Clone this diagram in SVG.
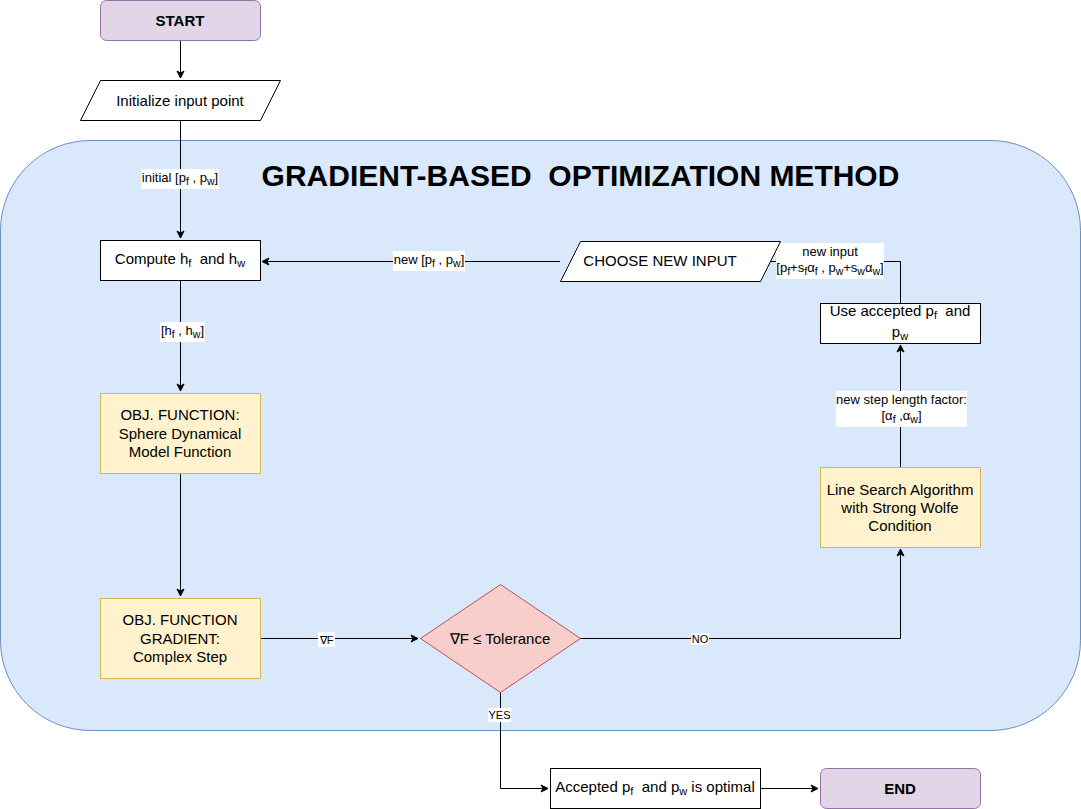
<svg xmlns="http://www.w3.org/2000/svg" width="1081" height="809" viewBox="0 0 1081 809">
<defs>
<marker id="arr" markerWidth="10" markerHeight="10" refX="8" refY="5" orient="auto" markerUnits="userSpaceOnUse">
<path d="M1,1.5 L8,5 L1,8.5 L3,5 Z" fill="#000" stroke="#000" stroke-width="1"/>
</marker>
<style>
text{font-family:"Liberation Sans",Arial,sans-serif;fill:#000;white-space:pre;}
.n{font-size:15px;text-anchor:middle;}
.b{font-weight:bold;}
.l{font-size:13px;text-anchor:middle;}
.t{font-size:11px;text-anchor:middle;}
.s{font-size:10.5px;}
.ss{font-size:11px;}
.term{fill:#e1d5e7;stroke:#9673a6;stroke-width:1;}
.proc{fill:#fff;stroke:#000;stroke-width:1;}
.obj{fill:#fff2cc;stroke:#d6b656;stroke-width:1;}
.dec{fill:#f8cecc;stroke:#b85450;stroke-width:1;}
.e{fill:none;stroke:#000;stroke-width:1;}
.lb{fill:#fff;stroke:none;}
</style>
</defs>
<rect fill="#fff" x="0" y="0" width="1081" height="809"/>
<g id="container">
<rect x="0.5" y="140.5" width="1080" height="590" rx="90" ry="90" fill="#dae8fc" stroke="#6c8ebf"/>
<text x="580.5" y="186" font-size="30" font-weight="bold" text-anchor="middle" xml:space="preserve">GRADIENT-BASED  OPTIMIZATION METHOD</text>
</g>
<g id="connectors">
<path class="e" d="M180.5,40 L180.5,78" marker-end="url(#arr)"/>
<path class="e" d="M180.5,120 L180.5,238" marker-end="url(#arr)"/>
<path class="e" d="M180.5,280 L180.5,391" marker-end="url(#arr)"/>
<path class="e" d="M180.5,473 L180.5,596" marker-end="url(#arr)"/>
<path class="e" d="M260,638.5 L418,638.5" marker-end="url(#arr)"/>
<path class="e" d="M580,638.5 L900.5,638.5 L900.5,549" marker-end="url(#arr)"/>
<path class="e" d="M900.5,467 L900.5,345" marker-end="url(#arr)"/>
<path class="e" d="M900.5,303 L900.5,261.5 L762,261.5" marker-end="url(#arr)"/>
<path class="e" d="M560,261.5 L262,261.5" marker-end="url(#arr)"/>
<path class="e" d="M500.5,692 L500.5,788.5 L548,788.5" marker-end="url(#arr)"/>
<path class="e" d="M760,788.5 L818,788.5" marker-end="url(#arr)"/>
<rect class="lb" x="141" y="169" width="78" height="20"/>
<text class="l" x="180" y="182" xml:space="preserve">initial [p<tspan class="s" dy="3">f</tspan><tspan dy="-3"> , p</tspan><tspan class="s" dy="3">w</tspan><tspan dy="-3">]</tspan></text>
<rect class="lb" x="160" y="322" width="45" height="20"/>
<text class="l" x="182.5" y="335" xml:space="preserve">[h<tspan class="s" dy="3">f</tspan><tspan dy="-3"> , h</tspan><tspan class="s" dy="3">w</tspan><tspan dy="-3">]</tspan></text>
<rect class="lb" x="393" y="251" width="72" height="20"/>
<text class="l" x="429" y="264" xml:space="preserve">new [p<tspan class="s" dy="3">f</tspan><tspan dy="-3"> , p</tspan><tspan class="s" dy="3">w</tspan><tspan dy="-3">]</tspan></text>
<rect class="lb" x="776" y="243" width="108" height="36"/>
<text class="l" x="830" y="256">new input</text>
<text class="l" x="830" y="272" xml:space="preserve">[p<tspan class="s" dy="3">f</tspan><tspan dy="-3">+s</tspan><tspan class="s" dy="3">f</tspan><tspan dy="-3">α</tspan><tspan class="s" dy="3">f</tspan><tspan dy="-3"> , p</tspan><tspan class="s" dy="3">w</tspan><tspan dy="-3">+s</tspan><tspan class="s" dy="3">w</tspan><tspan dy="-3">α</tspan><tspan class="s" dy="3">w</tspan><tspan dy="-3">]</tspan></text>
<rect class="lb" x="836" y="391" width="131" height="36"/>
<text class="l" x="901.5" y="404">new step length factor:</text>
<text class="l" x="901.5" y="420" xml:space="preserve">[α<tspan class="s" dy="3">f</tspan><tspan dy="-3"> ,α</tspan><tspan class="s" dy="3">w</tspan><tspan dy="-3">]</tspan></text>
<rect class="lb" x="318" y="632" width="17" height="15"/>
<text class="t" x="326.5" y="643.5">∇F</text>
<rect class="lb" x="691" y="633" width="18" height="12"/>
<text class="t" x="700" y="643">NO</text>
<rect class="lb" x="488" y="708" width="23" height="14"/>
<text class="t" x="499.5" y="719">YES</text>
</g>
<g id="start">
<rect class="term" x="100.5" y="0.5" width="160" height="40" rx="6" ry="6"/>
<text class="n b" x="180" y="25.5">START</text>
</g>
<g id="init">
<polygon class="proc" points="100.5,80.5 280.5,80.5 260.5,120.5 80.5,120.5"/>
<text class="n" x="180" y="105.5">Initialize input point</text>
</g>
<g id="compute">
<rect class="proc" x="100.5" y="240.5" width="160" height="40"/>
<text class="n" x="180" y="264" xml:space="preserve">Compute h<tspan class="ss" dy="3">f</tspan><tspan dy="-3">  and h</tspan><tspan class="ss" dy="3">w</tspan></text>
</g>
<g id="objfun">
<rect class="obj" x="100.5" y="393.5" width="160" height="80"/>
<text class="n" x="180" y="420">OBJ. FUNCTION:</text>
<text class="n" x="180" y="438.5">Sphere Dynamical</text>
<text class="n" x="180" y="457">Model Function</text>
</g>
<g id="gradient">
<rect class="obj" x="100.5" y="598.5" width="160" height="80"/>
<text class="n" x="180" y="625">OBJ. FUNCTION</text>
<text class="n" x="180" y="643.5">GRADIENT:</text>
<text class="n" x="180" y="662">Complex Step</text>
</g>
<g id="decision">
<polygon class="dec" points="500.5,584.5 580.5,638.5 500.5,692.5 420.5,638.5"/>
<text class="n" x="500" y="643.5">∇F ≤ Tolerance</text>
</g>
<g id="linesearch">
<rect class="obj" x="820.5" y="467.5" width="160" height="80"/>
<text class="n" x="900" y="495">Line Search Algorithm</text>
<text class="n" x="900" y="513">with Strong Wolfe</text>
<text class="n" x="900" y="531">Condition</text>
</g>
<g id="useaccepted">
<rect class="proc" x="820.5" y="303.5" width="160" height="40"/>
<text class="n" x="900" y="316" xml:space="preserve">Use accepted p<tspan class="ss" dy="3">f</tspan><tspan dy="-3">  and</tspan></text>
<text class="n" x="900" y="337">p<tspan class="ss" dy="3">w</tspan></text>
</g>
<g id="choose">
<polygon class="proc" points="580.5,241.5 780.5,241.5 760.5,281.5 560.5,281.5"/>
<text class="n" x="660" y="266">CHOOSE NEW INPUT</text>
</g>
<g id="accepted">
<rect class="proc" x="550.5" y="768.5" width="210" height="40"/>
<text class="n" x="655" y="792" xml:space="preserve">Accepted p<tspan class="ss" dy="3">f</tspan><tspan dy="-3">  and p</tspan><tspan class="ss" dy="3">w</tspan><tspan dy="-3"> is optimal</tspan></text>
</g>
<g id="end">
<rect class="term" x="820.5" y="768.5" width="160" height="40" rx="6" ry="6"/>
<text class="n b" x="900" y="793.5">END</text>
</g>
</svg>
